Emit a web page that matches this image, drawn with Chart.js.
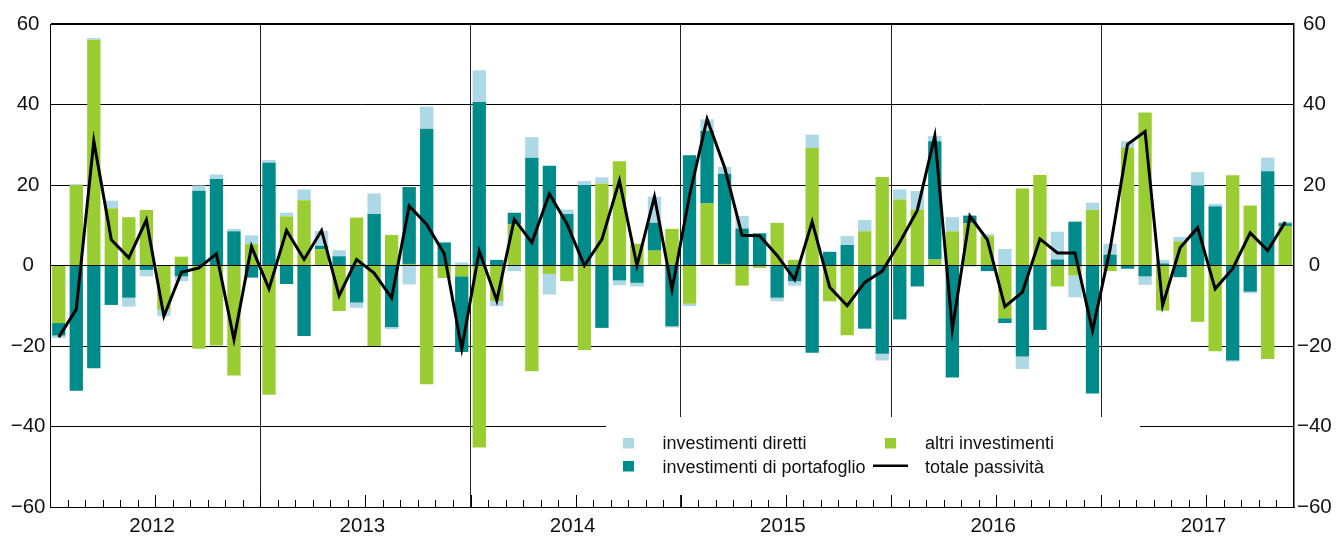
<!DOCTYPE html>
<html>
<head>
<meta charset="utf-8">
<script src="https://cdn.jsdelivr.net/npm/chart.js@4.4.1/dist/chart.umd.min.js"></script>
<style>
  html, body { margin: 0; padding: 0; background: #fff; }
  canvas { display: block; }
</style>
</head>
<body>
<canvas id="myChart" width="1336" height="537"></canvas>
<script>
// months from Jan 2012 to Nov 2017
const years = ['2012', '2013', '2014', '2015', '2016', '2017'];
const months = ['01', '02', '03', '04', '05', '06', '07', '08', '09', '10', '11', '12'];
const lastMonth = '2017-11';

const categories = [];
years.forEach(y => months.forEach(m => {
  const key = y + '-' + m;
  if (key <= lastMonth) categories.push(key);
}));

// investimenti diretti
const diretti = [
  -0.6, 0.2, 0.4, 1.9, -2.2, -1.6, -1.6, -1.2, 1.3, 1.1, 0.6, 2.2,
  0.7, 0.9, 2.7, 3.7, 1.5, -1.3, 5.1, -0.5, -4.7, 5.5, 0.2, 0.8,
  7.9, -1.2, -1.4, 5.1, -5.1, 1.1, 1.0, 1.5, -1.2, -0.9, 6.5, -0.3,
  -0.6, 2.8, 1.7, 3.1, 0.0, -0.9, -1.1, 3.3, 0.0, 2.2, 2.8, -1.7,
  2.5, 4.6, 1.3, 3.5, -0.3, 0.5, 4.1, -3.1, 0.0, 6.9, -5.4, 1.8,
  2.7, 1.7, -2.1, 0.9, 1.1, 3.4, 0.6, -0.3, -0.4, 3.4, 0.4
];

// investimenti di portafoglio
const portafoglio = [
  -3.1, -31.1, -25.5, -9.8, -8.0, -1.1, 0.0, -2.7, 18.6, 21.5, 8.5, -3.0,
  25.5, -4.6, -17.5, 0.9, 2.3, -9.2, 12.8, -15.3, 19.1, 34.0, 5.7, -18.8,
  40.6, 1.4, 2.9, 26.8, 24.8, 12.8, 20.0, -15.5, -3.7, -4.3, 6.9, -15.1,
  27.4, 18.1, 22.4, 9.2, 8.0, -8.0, -3.9, -21.7, 3.4, 5.1, -15.7, -21.9,
  -13.4, -5.2, 29.4, -27.8, 1.9, -1.4, -1.2, -22.6, -16.0, 1.5, 10.9, -31.8,
  2.7, -0.8, -2.7, 0.5, -2.9, 19.8, 14.7, -23.6, -6.5, 23.4, 0.7
];

// altri investimenti
const altri = [
  -14.3, 20.0, 56.1, 14.2, 12.0, 13.8, -11.0, 2.2, -20.7, -19.9, -27.3, 5.3,
  -32.1, 12.2, 16.2, 4.0, -11.3, 11.9, -20.0, 7.6, 0.4, -29.5, -3.1, -2.7,
  -45.2, -8.9, 10.2, -26.3, -2.1, -3.9, -21.0, 20.4, 25.9, 5.4, 3.7, 9.1,
  -9.5, 15.4, 0.4, -5.0, -0.6, 10.6, 1.4, 29.2, -8.9, -17.3, 8.5, 22.0,
  16.4, 13.9, 1.5, 8.5, 10.5, 7.3, -13.1, 19.1, 22.5, -5.2, -2.5, 13.8,
  -1.4, 29.2, 38.0, -11.2, 6.0, -14.0, -21.3, 22.4, 14.9, -23.2, 9.8
];

// totale passività
const totale = [
  -17.8, -10.9, 30.9, 6.4, 1.9, 11.3, -12.6, -1.7, -0.6, 2.9, -18.4, 4.7,
  -5.8, 8.7, 1.5, 8.7, -7.5, 1.5, -1.9, -8.1, 14.8, 10.2, 2.9, -20.7,
  3.6, -8.7, 11.5, 5.7, 17.8, 10.4, 0.0, 6.5, 21.1, 0.0, 17.1, -6.0,
  17.4, 36.4, 24.4, 7.5, 7.4, 2.5, -3.5, 10.9, -5.4, -10.0, -4.2, -1.4,
  5.8, 13.7, 32.2, -15.9, 12.3, 6.4, -10.2, -6.6, 6.6, 3.1, 3.1, -16.2,
  4.0, 30.1, 33.3, -9.9, 4.4, 9.4, -5.8, -0.8, 8.1, 3.7, 10.8
];

const yTicks = [-60, -40, -20, 0, 20, 40, 60];

const colDiretti = '#add8e6';
const colPortafoglio = '#008b8b';
const colAltri = '#9acd32';
const fontFamily = "'Liberation Sans', Arial, sans-serif";

const minus = v => v < 0 ? '\u2212' + Math.abs(v) : String(v);

// white legend box, month ticks and legend
const framePlugin = {
  id: 'framePlugin',
  beforeDatasetsDraw(chart) {
    const ctx = chart.ctx;
    ctx.save();
    ctx.fillStyle = '#fff';
    ctx.fillRect(606, 417, 534, 78);
    ctx.restore();
  },
  afterDraw(chart) {
    const ctx = chart.ctx;
    const x = chart.scales.x;
    const area = chart.chartArea;
    ctx.save();
    ctx.strokeStyle = '#000';
    ctx.lineWidth = 1;
    ctx.beginPath();
    for (let i = 1; i < categories.length; i++) {
      const px = Math.round((x.getPixelForValue(i - 1) + x.getPixelForValue(i)) / 2) + 0.5;
      const len = (i % 12 === 0 || i % 12 === 6) ? 12 : 7;
      ctx.moveTo(px, area.bottom);
      ctx.lineTo(px, area.bottom - len);
    }
    ctx.stroke();

    // legend
    ctx.font = '18px ' + fontFamily;
    ctx.textBaseline = 'alphabetic';
    ctx.textAlign = 'left';
    ctx.fillStyle = colDiretti;
    ctx.fillRect(623, 438, 11, 10.5);
    ctx.fillStyle = colAltri;
    ctx.fillRect(885, 438, 11, 10.5);
    ctx.fillStyle = colPortafoglio;
    ctx.fillRect(623, 461, 11, 10.5);
    ctx.strokeStyle = '#000';
    ctx.lineWidth = 2.5;
    ctx.beginPath();
    ctx.moveTo(873, 465.7);
    ctx.lineTo(908, 465.7);
    ctx.stroke();
    ctx.fillStyle = '#111';
    ctx.fillText('investimenti diretti', 662.5, 449);
    ctx.fillText('altri investimenti', 925, 449);
    ctx.fillText('investimenti di portafoglio', 662.5, 472.5);
    ctx.fillText('totale passività', 925, 472.5);
    ctx.restore();
  }
};

const data = {
  labels: categories,
  datasets: [
    {
      type: 'line',
      label: 'totale passività',
      data: totale,
      borderColor: '#000',
      borderWidth: 3,
      borderJoinStyle: 'miter',
      pointRadius: 0,
      tension: 0,
      stack: 'totale',
      order: 0
    },
    {
      label: 'altri investimenti',
      data: altri,
      backgroundColor: colAltri,
      order: 1
    },
    {
      label: 'investimenti di portafoglio',
      data: portafoglio,
      backgroundColor: colPortafoglio,
      order: 1
    },
    {
      label: 'investimenti diretti',
      data: diretti,
      backgroundColor: colDiretti,
      order: 1
    }
  ]
};

const config = {
  type: 'bar',
  data,
  options: {
    responsive: false,
    devicePixelRatio: 1,
    animation: false,
    layout: { padding: { top: 24, left: 0, right: 0, bottom: 0 } },
    datasets: {
      bar: { categoryPercentage: 1, barPercentage: 0.76, borderWidth: 0 }
    },
    scales: {
      x: {
        stacked: true,
        offset: true,
        afterFit: (scale) => { scale.height = 30; },
        grid: {
          offset: true,
          drawTicks: false,
          lineWidth: 1,
          color: (ctx) => (ctx.index % 12 === 0 && ctx.index > 0 && ctx.index < categories.length) ? '#222' : 'rgba(0,0,0,0)'
        },
        border: { display: true, color: '#000', width: 1 },
        ticks: {
          autoSkip: false,
          maxRotation: 0,
          minRotation: 0,
          padding: 7,
          labelOffset: 5.8,
          color: '#111',
          font: { family: fontFamily, size: 20.5 },
          callback: function (val, i) {
            return i % 12 === 5 ? this.getLabelForValue(val).slice(0, 4) : '';
          }
        }
      },
      y: {
        stacked: true,
        position: 'left',
        min: yTicks[0],
        max: yTicks[yTicks.length - 1],
        afterFit: (scale) => { scale.width = 50; },
        grid: {
          drawTicks: false,
          color: '#000',
          lineWidth: (ctx) => (ctx.tick && ctx.tick.value === 60) ? 2 : 1
        },
        border: { display: true, color: '#000', width: 1 },
        ticks: {
          stepSize: 20,
          padding: 4.5,
          crossAlign: 'center',
          color: '#111',
          font: { family: fontFamily, size: 20.5 },
          callback: minus
        }
      },
      y2: {
        position: 'right',
        min: yTicks[0],
        max: yTicks[yTicks.length - 1],
        afterFit: (scale) => { scale.width = 42; },
        grid: { drawOnChartArea: false, drawTicks: false },
        border: { display: true, color: '#000', width: 1.5 },
        ticks: {
          stepSize: 20,
          padding: 3,
          crossAlign: 'center',
          color: '#111',
          font: { family: fontFamily, size: 20.5 },
          callback: minus
        }
      }
    },
    plugins: {
      legend: { display: false },
      tooltip: { enabled: false }
    }
  },
  plugins: [framePlugin]
};

const myChart = new Chart(
  document.getElementById('myChart'),
  config
);
</script>
</body>
</html>
